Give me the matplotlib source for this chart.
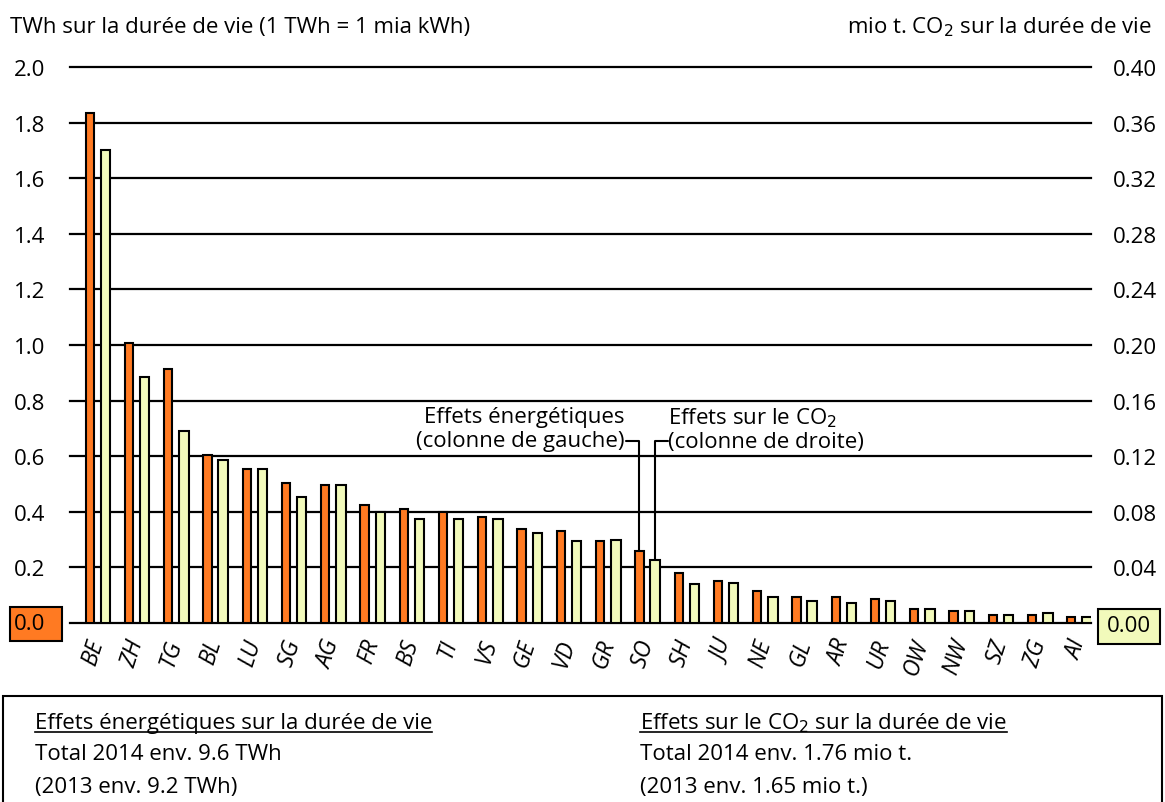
import matplotlib
matplotlib.use("Agg")
import matplotlib.pyplot as plt
from matplotlib.patches import Rectangle
from matplotlib.lines import Line2D
import numpy as np

plt.rcParams['font.family'] = ['Open Sans', 'DejaVu Sans']

cantons = ['BE', 'ZH', 'TG', 'BL', 'LU', 'SG', 'AG', 'FR', 'BS', 'TI', 'VS', 'GE', 'VD',
           'GR', 'SO', 'SH', 'JU', 'NE', 'GL', 'AR', 'UR', 'OW', 'NW', 'SZ', 'ZG', 'AI']
# TWh sur la durée de vie (axe gauche)
energie = [1.836, 1.007, 0.915, 0.604, 0.554, 0.505, 0.497, 0.424, 0.411, 0.398, 0.382,
           0.339, 0.332, 0.295, 0.260, 0.181, 0.152, 0.116, 0.095, 0.095, 0.087, 0.051,
           0.044, 0.030, 0.030, 0.023]
# mio t. CO2 sur la durée de vie (axe droit)
co2 = [0.340, 0.177, 0.138, 0.117, 0.111, 0.091, 0.0995, 0.080, 0.075, 0.075, 0.075,
       0.065, 0.059, 0.060, 0.045, 0.028, 0.029, 0.019, 0.016, 0.0146, 0.016, 0.0103,
       0.0089, 0.006, 0.0074, 0.0046]
yticks_l = [0.0, 0.2, 0.4, 0.6, 0.8, 1.0, 1.2, 1.4, 1.6, 1.8, 2.0]
yticks_r = [0.0, 0.04, 0.08, 0.12, 0.16, 0.20, 0.24, 0.28, 0.32, 0.36, 0.40]

orange = '#FF7A22'
vert = '#F2FABB'
W, H = 1165, 803
fs = 16

fig = plt.figure(figsize=(W / 100, H / 100), dpi=100)
ax = fig.add_axes([70 / W, 1 - 624 / H, (1091 - 70) / W, (624 - 68) / H])
ax2 = ax.twinx()

x = np.arange(len(cantons))
ax.bar(x, energie, width=0.21, color=orange, edgecolor='black', linewidth=1.5, zorder=3)
ax2.bar(x + 0.40, co2, width=0.24, color=vert, edgecolor='black', linewidth=1.5, zorder=3)

ax.set_xlim(-0.5, len(cantons) - 0.5)
ax.set_ylim(0, 2.0)
ax2.set_ylim(0, 0.40)
for a in (ax, ax2):
    for s in a.spines.values():
        s.set_visible(False)
for v in yticks_l:
    ax.axhline(v, color='black', lw=1.6, zorder=1, clip_on=False)

ax.set_yticks(yticks_l[1:])
ax.set_yticklabels([f'{v:.1f}' for v in yticks_l[1:]], fontsize=fs)
ax.tick_params(axis='y', length=0, pad=18)
ax2.set_yticks(yticks_r[1:])
ax2.set_yticklabels([f'{v:.2f}' for v in yticks_r[1:]], fontsize=fs)
ax2.tick_params(axis='y', length=0, pad=16)

ax.set_xticks(x + 0.2)
ax.set_xticklabels(cantons, rotation=72, ha='right', va='center', rotation_mode='anchor',
                   fontsize=fs + 0.5, style='italic')
ax.tick_params(axis='x', length=0, pad=12)

# boîtes des zéros
fig.patches.append(Rectangle((10 / W, 1 - 642 / H), 52 / W, 34 / H, transform=fig.transFigure,
                             fc=orange, ec='black', lw=1.5))
fig.text(14 / W, 1 - 625 / H, '0.0', fontsize=fs, va='center', ha='left')
fig.patches.append(Rectangle((1098 / W, 1 - 645 / H), 62 / W, 35 / H, transform=fig.transFigure,
                             fc=vert, ec='black', lw=1.5))
fig.text(1129 / W, 1 - 627 / H, '0.00', fontsize=fs, va='center', ha='center')

# titres des axes
fig.text(10 / W, 1 - 27 / H, 'TWh sur la durée de vie (1 TWh = 1 mia kWh)',
         fontsize=fs, va='center', ha='left')
fig.text(1152 / W, 1 - 27 / H, 'mio t. CO$_2$ sur la durée de vie',
         fontsize=fs, va='center', ha='right')

# annotations
iso = cantons.index('SO')
ax.text(13.63, 0.70, 'Effets énergétiques\n(colonne de gauche)', ha='right', va='center',
        fontsize=fs, linespacing=1.15)
ax.text(14.74, 0.70, 'Effets sur le CO$_2$\n(colonne de droite)', ha='left', va='center',
        fontsize=fs, linespacing=1.15)
ax.annotate('', xy=(iso, energie[iso]), xytext=(13.66, 0.655),
            arrowprops=dict(arrowstyle='-', lw=1.5, color='black', shrinkA=0, shrinkB=0,
                            connectionstyle='angle,angleA=0,angleB=90,rad=0'), zorder=5)
ax.annotate('', xy=(iso + 0.40, co2[iso] * 5), xytext=(14.72, 0.655),
            arrowprops=dict(arrowstyle='-', lw=1.5, color='black', shrinkA=0, shrinkB=0,
                            connectionstyle='angle,angleA=0,angleB=90,rad=0'), zorder=5)

# encadré du bas
fig.patches.append(Rectangle((3 / W, -0.01), 1159 / W, (803 - 697) / H + 0.01,
                             transform=fig.transFigure, fill=False, ec='black', lw=1.5))
lignes_g = ['Effets énergétiques sur la durée de vie', 'Total 2014 env. 9.6 TWh',
            '(2013 env. 9.2 TWh)']
lignes_d = ['Effets sur le CO$_2$ sur la durée de vie', 'Total 2014 env. 1.76 mio t.',
            '(2013 env. 1.65 mio t.)']
heads = []
for x0, lignes in ((35, lignes_g), (640, lignes_d)):
    for k, (t, yy) in enumerate(zip(lignes, (729, 760, 793))):
        tt = fig.text(x0 / W, 1 - yy / H, t, fontsize=fs, va='baseline', ha='left')
        if k == 0:
            heads.append(tt)

fig.canvas.draw()
r = fig.canvas.get_renderer()
for tt in heads:
    bb = tt.get_window_extent(r)
    yl = 1 - 733 / H
    fig.add_artist(Line2D([bb.x0 / W, bb.x1 / W], [yl, yl], transform=fig.transFigure,
                          color='black', lw=1.2))

fig.savefig('out.png', dpi=100)
